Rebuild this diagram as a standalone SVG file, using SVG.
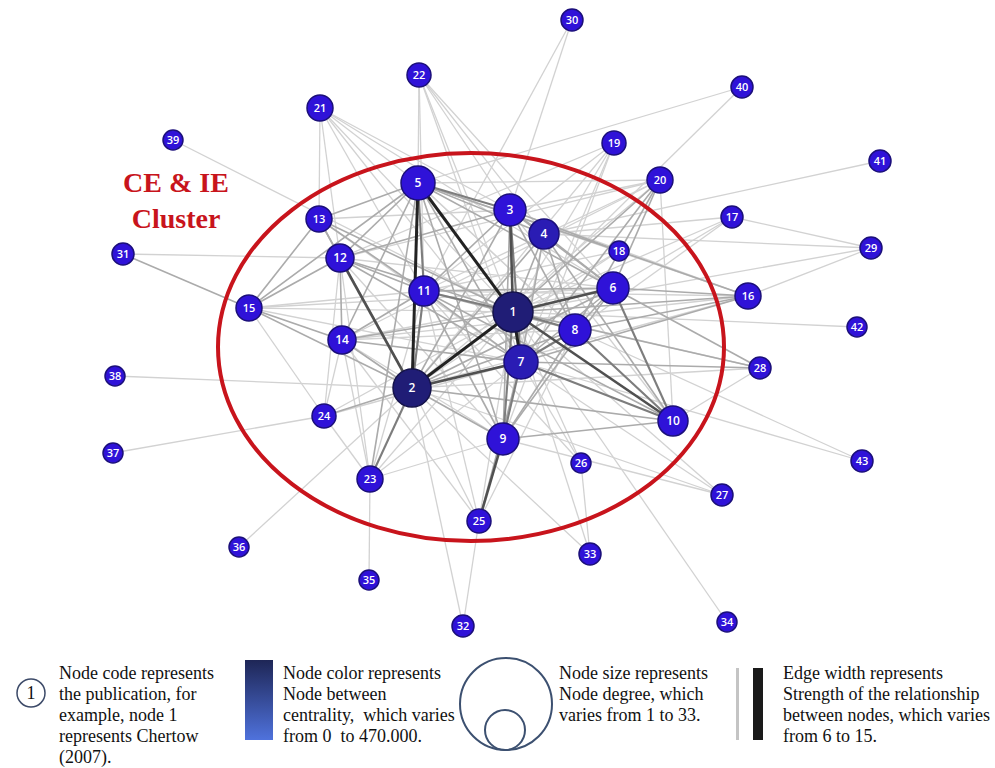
<svg xmlns="http://www.w3.org/2000/svg" width="995" height="768" viewBox="0 0 995 768">
<style>
.e1{stroke:#d2d2d2;stroke-width:1.3}
.e2{stroke:#ababab;stroke-width:1.6}
.e3{stroke:#7d7d7d;stroke-width:2.1}
.e4{stroke:#505050;stroke-width:2.6}
.e5{stroke:#222;stroke-width:3}
.n{fill:#2f12d8;stroke:#1b0f7a;stroke-width:1.5}
.nd{fill:#201d76;stroke:#14124a;stroke-width:1.5}
.nm{fill:#2a1cb4;stroke:#1b0f7a;stroke-width:1.5}
.l{fill:#fff;font-family:"Open Sans","DejaVu Sans",sans-serif;font-weight:600;text-anchor:middle}
.s{font-size:11px}
.b{font-size:12px}
.lg{font-family:"Liberation Serif","Times New Roman",serif;font-size:18px;fill:#111}
.red{font-family:"Liberation Serif","Times New Roman",serif;font-size:28px;font-weight:bold;fill:#c8141c;text-anchor:middle}
</style>
<defs>
<linearGradient id="grad" x1="0" y1="0" x2="0" y2="1">
<stop offset="0" stop-color="#1e2656"/>
<stop offset="1" stop-color="#4f72dc"/>
</linearGradient>
</defs>
<rect width="995" height="768" fill="#fff"/>
<g id="edges">
<line class="e1" x1="572" y1="20" x2="424" y2="291"/>
<line class="e1" x1="572" y1="20" x2="510" y2="210"/>
<line class="e1" x1="742" y1="87" x2="418" y2="183"/>
<line class="e1" x1="742" y1="87" x2="513" y2="312"/>
<line class="e1" x1="880" y1="161" x2="544" y2="234"/>
<line class="e1" x1="173" y1="140" x2="513" y2="312"/>
<line class="e1" x1="123" y1="254" x2="340" y2="258"/>
<line class="e1" x1="115" y1="376" x2="412" y2="388"/>
<line class="e1" x1="113" y1="453" x2="324" y2="416"/>
<line class="e1" x1="239" y1="547" x2="412" y2="388"/>
<line class="e1" x1="369" y1="580" x2="370" y2="479"/>
<line class="e1" x1="463" y1="626" x2="479" y2="521"/>
<line class="e1" x1="463" y1="626" x2="412" y2="388"/>
<line class="e1" x1="590" y1="554" x2="581" y2="463"/>
<line class="e1" x1="590" y1="554" x2="412" y2="388"/>
<line class="e1" x1="590" y1="554" x2="513" y2="312"/>
<line class="e1" x1="727" y1="622" x2="513" y2="312"/>
<line class="e1" x1="857" y1="327" x2="513" y2="312"/>
<line class="e1" x1="862" y1="461" x2="575" y2="330"/>
<line class="e1" x1="862" y1="461" x2="521" y2="362"/>
<line class="e1" x1="871" y1="248" x2="544" y2="234"/>
<line class="e1" x1="871" y1="248" x2="513" y2="312"/>
<line class="e1" x1="871" y1="248" x2="748" y2="296"/>
<line class="e1" x1="871" y1="248" x2="732" y2="217"/>
<line class="e1" x1="732" y1="217" x2="544" y2="234"/>
<line class="e1" x1="732" y1="217" x2="513" y2="312"/>
<line class="e1" x1="732" y1="217" x2="613" y2="288"/>
<line class="e1" x1="732" y1="217" x2="575" y2="330"/>
<line class="e1" x1="722" y1="495" x2="503" y2="439"/>
<line class="e1" x1="722" y1="495" x2="521" y2="362"/>
<line class="e1" x1="722" y1="495" x2="513" y2="312"/>
<line class="e1" x1="722" y1="495" x2="412" y2="388"/>
<line class="e1" x1="581" y1="463" x2="513" y2="312"/>
<line class="e1" x1="581" y1="463" x2="424" y2="291"/>
<line class="e1" x1="581" y1="463" x2="521" y2="362"/>
<line class="e1" x1="419" y1="75" x2="418" y2="183"/>
<line class="e1" x1="419" y1="75" x2="424" y2="291"/>
<line class="e1" x1="419" y1="75" x2="510" y2="210"/>
<line class="e1" x1="419" y1="75" x2="513" y2="312"/>
<line class="e1" x1="419" y1="75" x2="544" y2="234"/>
<line class="e1" x1="419" y1="75" x2="521" y2="362"/>
<line class="e1" x1="419" y1="75" x2="613" y2="288"/>
<line class="e1" x1="320" y1="108" x2="319" y2="219"/>
<line class="e1" x1="320" y1="108" x2="340" y2="258"/>
<line class="e1" x1="320" y1="108" x2="418" y2="183"/>
<line class="e1" x1="320" y1="108" x2="510" y2="210"/>
<line class="e1" x1="320" y1="108" x2="424" y2="291"/>
<line class="e1" x1="320" y1="108" x2="513" y2="312"/>
<line class="e1" x1="320" y1="108" x2="613" y2="288"/>
<line class="e1" x1="320" y1="108" x2="521" y2="362"/>
<line class="e1" x1="614" y1="143" x2="424" y2="291"/>
<line class="e1" x1="614" y1="143" x2="513" y2="312"/>
<line class="e1" x1="614" y1="143" x2="412" y2="388"/>
<line class="e1" x1="614" y1="143" x2="521" y2="362"/>
<line class="e1" x1="614" y1="143" x2="340" y2="258"/>
<line class="e1" x1="614" y1="143" x2="503" y2="439"/>
<line class="e1" x1="660" y1="180" x2="418" y2="183"/>
<line class="e1" x1="660" y1="180" x2="510" y2="210"/>
<line class="e1" x1="660" y1="180" x2="424" y2="291"/>
<line class="e1" x1="660" y1="180" x2="412" y2="388"/>
<line class="e1" x1="660" y1="180" x2="340" y2="258"/>
<line class="e1" x1="660" y1="180" x2="673" y2="421"/>
<line class="e1" x1="660" y1="180" x2="342" y2="340"/>
<line class="e1" x1="619" y1="251" x2="418" y2="183"/>
<line class="e1" x1="619" y1="251" x2="424" y2="291"/>
<line class="e1" x1="619" y1="251" x2="513" y2="312"/>
<line class="e1" x1="619" y1="251" x2="412" y2="388"/>
<line class="e1" x1="748" y1="296" x2="412" y2="388"/>
<line class="e1" x1="748" y1="296" x2="424" y2="291"/>
<line class="e1" x1="748" y1="296" x2="342" y2="340"/>
<line class="e1" x1="748" y1="296" x2="418" y2="183"/>
<line class="e1" x1="748" y1="296" x2="510" y2="210"/>
<line class="e1" x1="760" y1="368" x2="424" y2="291"/>
<line class="e1" x1="760" y1="368" x2="412" y2="388"/>
<line class="e1" x1="760" y1="368" x2="673" y2="421"/>
<line class="e1" x1="324" y1="416" x2="249" y2="308"/>
<line class="e1" x1="324" y1="416" x2="340" y2="258"/>
<line class="e1" x1="324" y1="416" x2="370" y2="479"/>
<line class="e1" x1="324" y1="416" x2="513" y2="312"/>
<line class="e1" x1="324" y1="416" x2="521" y2="362"/>
<line class="e1" x1="324" y1="416" x2="342" y2="340"/>
<line class="e1" x1="370" y1="479" x2="513" y2="312"/>
<line class="e1" x1="370" y1="479" x2="521" y2="362"/>
<line class="e1" x1="370" y1="479" x2="424" y2="291"/>
<line class="e1" x1="370" y1="479" x2="340" y2="258"/>
<line class="e1" x1="370" y1="479" x2="342" y2="340"/>
<line class="e1" x1="370" y1="479" x2="503" y2="439"/>
<line class="e1" x1="479" y1="521" x2="513" y2="312"/>
<line class="e1" x1="479" y1="521" x2="412" y2="388"/>
<line class="e1" x1="479" y1="521" x2="424" y2="291"/>
<line class="e1" x1="479" y1="521" x2="342" y2="340"/>
<line class="e1" x1="479" y1="521" x2="575" y2="330"/>
<line class="e1" x1="249" y1="308" x2="424" y2="291"/>
<line class="e1" x1="249" y1="308" x2="513" y2="312"/>
<line class="e1" x1="249" y1="308" x2="613" y2="288"/>
<line class="e1" x1="249" y1="308" x2="521" y2="362"/>
<line class="e1" x1="319" y1="219" x2="510" y2="210"/>
<line class="e1" x1="319" y1="219" x2="521" y2="362"/>
<line class="e1" x1="340" y1="258" x2="613" y2="288"/>
<line class="e1" x1="340" y1="258" x2="503" y2="439"/>
<line class="e1" x1="342" y1="340" x2="613" y2="288"/>
<line class="e1" x1="342" y1="340" x2="575" y2="330"/>
<line class="e1" x1="342" y1="340" x2="503" y2="439"/>
<line class="e1" x1="510" y1="210" x2="673" y2="421"/>
<line class="e1" x1="544" y1="234" x2="503" y2="439"/>
<line class="e1" x1="418" y1="183" x2="673" y2="421"/>
<line class="e1" x1="418" y1="183" x2="575" y2="330"/>
<line class="e2" x1="123" y1="254" x2="249" y2="308"/>
<line class="e2" x1="249" y1="308" x2="340" y2="258"/>
<line class="e2" x1="249" y1="308" x2="319" y2="219"/>
<line class="e2" x1="249" y1="308" x2="418" y2="183"/>
<line class="e2" x1="249" y1="308" x2="342" y2="340"/>
<line class="e2" x1="249" y1="308" x2="412" y2="388"/>
<line class="e2" x1="319" y1="219" x2="418" y2="183"/>
<line class="e2" x1="319" y1="219" x2="340" y2="258"/>
<line class="e2" x1="319" y1="219" x2="513" y2="312"/>
<line class="e2" x1="319" y1="219" x2="412" y2="388"/>
<line class="e2" x1="319" y1="219" x2="424" y2="291"/>
<line class="e2" x1="340" y1="258" x2="418" y2="183"/>
<line class="e2" x1="340" y1="258" x2="513" y2="312"/>
<line class="e2" x1="340" y1="258" x2="424" y2="291"/>
<line class="e2" x1="340" y1="258" x2="342" y2="340"/>
<line class="e2" x1="340" y1="258" x2="521" y2="362"/>
<line class="e2" x1="340" y1="258" x2="510" y2="210"/>
<line class="e2" x1="342" y1="340" x2="412" y2="388"/>
<line class="e2" x1="342" y1="340" x2="513" y2="312"/>
<line class="e2" x1="342" y1="340" x2="521" y2="362"/>
<line class="e2" x1="342" y1="340" x2="424" y2="291"/>
<line class="e2" x1="342" y1="340" x2="418" y2="183"/>
<line class="e2" x1="424" y1="291" x2="521" y2="362"/>
<line class="e2" x1="424" y1="291" x2="503" y2="439"/>
<line class="e2" x1="424" y1="291" x2="613" y2="288"/>
<line class="e2" x1="424" y1="291" x2="575" y2="330"/>
<line class="e2" x1="424" y1="291" x2="510" y2="210"/>
<line class="e2" x1="424" y1="291" x2="673" y2="421"/>
<line class="e2" x1="418" y1="183" x2="544" y2="234"/>
<line class="e2" x1="418" y1="183" x2="521" y2="362"/>
<line class="e2" x1="418" y1="183" x2="503" y2="439"/>
<line class="e2" x1="418" y1="183" x2="613" y2="288"/>
<line class="e2" x1="418" y1="183" x2="619" y2="251"/>
<line class="e2" x1="510" y1="210" x2="412" y2="388"/>
<line class="e2" x1="510" y1="210" x2="503" y2="439"/>
<line class="e2" x1="510" y1="210" x2="544" y2="234"/>
<line class="e2" x1="510" y1="210" x2="613" y2="288"/>
<line class="e2" x1="510" y1="210" x2="575" y2="330"/>
<line class="e2" x1="544" y1="234" x2="513" y2="312"/>
<line class="e2" x1="544" y1="234" x2="412" y2="388"/>
<line class="e2" x1="544" y1="234" x2="521" y2="362"/>
<line class="e2" x1="544" y1="234" x2="575" y2="330"/>
<line class="e2" x1="544" y1="234" x2="673" y2="421"/>
<line class="e2" x1="544" y1="234" x2="613" y2="288"/>
<line class="e2" x1="613" y1="288" x2="412" y2="388"/>
<line class="e2" x1="613" y1="288" x2="521" y2="362"/>
<line class="e2" x1="613" y1="288" x2="575" y2="330"/>
<line class="e2" x1="613" y1="288" x2="503" y2="439"/>
<line class="e2" x1="575" y1="330" x2="412" y2="388"/>
<line class="e2" x1="575" y1="330" x2="503" y2="439"/>
<line class="e2" x1="748" y1="296" x2="513" y2="312"/>
<line class="e2" x1="748" y1="296" x2="521" y2="362"/>
<line class="e2" x1="748" y1="296" x2="613" y2="288"/>
<line class="e2" x1="748" y1="296" x2="575" y2="330"/>
<line class="e2" x1="748" y1="296" x2="619" y2="251"/>
<line class="e2" x1="760" y1="368" x2="513" y2="312"/>
<line class="e2" x1="760" y1="368" x2="613" y2="288"/>
<line class="e2" x1="760" y1="368" x2="521" y2="362"/>
<line class="e2" x1="660" y1="180" x2="513" y2="312"/>
<line class="e2" x1="660" y1="180" x2="521" y2="362"/>
<line class="e2" x1="660" y1="180" x2="613" y2="288"/>
<line class="e2" x1="660" y1="180" x2="575" y2="330"/>
<line class="e2" x1="619" y1="251" x2="510" y2="210"/>
<line class="e2" x1="673" y1="421" x2="412" y2="388"/>
<line class="e2" x1="673" y1="421" x2="503" y2="439"/>
<line class="e2" x1="370" y1="479" x2="418" y2="183"/>
<line class="e2" x1="324" y1="416" x2="412" y2="388"/>
<line class="e2" x1="479" y1="521" x2="521" y2="362"/>
<line class="e2" x1="412" y1="388" x2="503" y2="439"/>
<line class="e3" x1="510" y1="210" x2="521" y2="362"/>
<line class="e3" x1="424" y1="291" x2="513" y2="312"/>
<line class="e3" x1="424" y1="291" x2="412" y2="388"/>
<line class="e3" x1="513" y1="312" x2="503" y2="439"/>
<line class="e3" x1="521" y1="362" x2="503" y2="439"/>
<line class="e3" x1="575" y1="330" x2="513" y2="312"/>
<line class="e3" x1="575" y1="330" x2="521" y2="362"/>
<line class="e3" x1="370" y1="479" x2="412" y2="388"/>
<line class="e3" x1="673" y1="421" x2="521" y2="362"/>
<line class="e3" x1="613" y1="288" x2="673" y2="421"/>
<line class="e3" x1="575" y1="330" x2="673" y2="421"/>
<line class="e3" x1="418" y1="183" x2="510" y2="210"/>
<line class="e3" x1="418" y1="183" x2="424" y2="291"/>
<line class="e4" x1="513" y1="312" x2="673" y2="421"/>
<line class="e4" x1="510" y1="210" x2="513" y2="312"/>
<line class="e4" x1="412" y1="388" x2="521" y2="362"/>
<line class="e4" x1="613" y1="288" x2="513" y2="312"/>
<line class="e4" x1="503" y1="439" x2="479" y2="521"/>
<line class="e4" x1="340" y1="258" x2="412" y2="388"/>
<line class="e5" x1="418" y1="183" x2="513" y2="312"/>
<line class="e5" x1="418" y1="183" x2="412" y2="388"/>
<line class="e5" x1="513" y1="312" x2="412" y2="388"/>
<line class="e5" x1="513" y1="312" x2="521" y2="362"/>
</g>
<ellipse id="cluster" cx="471" cy="347" rx="253" ry="194" fill="none" stroke="#c8141c" stroke-width="4"/>
<g id="cluster-label">
<text class="red" x="176" y="192">CE &amp; IE</text>
<text class="red" x="176" y="228">Cluster</text>
</g>
<g id="node-1"><circle class="nd" cx="513" cy="312" r="20"/><text class="l b" x="513" y="312" dy="0.36em">1</text></g>
<g id="node-2"><circle class="nd" cx="412" cy="388" r="19"/><text class="l b" x="412" y="388" dy="0.36em">2</text></g>
<g id="node-3"><circle class="n" cx="510" cy="210" r="16"/><text class="l b" x="510" y="210" dy="0.36em">3</text></g>
<g id="node-4"><circle class="nm" cx="544" cy="234" r="15"/><text class="l b" x="544" y="234" dy="0.36em">4</text></g>
<g id="node-5"><circle class="n" cx="418" cy="183" r="17"/><text class="l b" x="418" y="183" dy="0.36em">5</text></g>
<g id="node-6"><circle class="n" cx="613" cy="288" r="16"/><text class="l b" x="613" y="288" dy="0.36em">6</text></g>
<g id="node-7"><circle class="nm" cx="521" cy="362" r="17"/><text class="l b" x="521" y="362" dy="0.36em">7</text></g>
<g id="node-8"><circle class="n" cx="575" cy="330" r="16"/><text class="l b" x="575" y="330" dy="0.36em">8</text></g>
<g id="node-9"><circle class="n" cx="503" cy="439" r="16"/><text class="l b" x="503" y="439" dy="0.36em">9</text></g>
<g id="node-10"><circle class="n" cx="673" cy="421" r="15"/><text class="l b" x="673" y="421" dy="0.36em">10</text></g>
<g id="node-11"><circle class="n" cx="424" cy="291" r="15"/><text class="l b" x="424" y="291" dy="0.36em">11</text></g>
<g id="node-12"><circle class="n" cx="340" cy="258" r="14"/><text class="l b" x="340" y="258" dy="0.36em">12</text></g>
<g id="node-13"><circle class="n" cx="319" cy="219" r="13"/><text class="l s" x="319" y="219" dy="0.36em">13</text></g>
<g id="node-14"><circle class="n" cx="342" cy="340" r="14"/><text class="l b" x="342" y="340" dy="0.36em">14</text></g>
<g id="node-15"><circle class="n" cx="249" cy="308" r="13"/><text class="l s" x="249" y="308" dy="0.36em">15</text></g>
<g id="node-16"><circle class="n" cx="748" cy="296" r="13"/><text class="l s" x="748" y="296" dy="0.36em">16</text></g>
<g id="node-17"><circle class="n" cx="732" cy="217" r="11"/><text class="l s" x="732" y="217" dy="0.36em">17</text></g>
<g id="node-18"><circle class="n" cx="619" cy="251" r="10"/><text class="l s" x="619" y="251" dy="0.36em">18</text></g>
<g id="node-19"><circle class="n" cx="614" cy="143" r="12"/><text class="l s" x="614" y="143" dy="0.36em">19</text></g>
<g id="node-20"><circle class="n" cx="660" cy="180" r="13"/><text class="l s" x="660" y="180" dy="0.36em">20</text></g>
<g id="node-21"><circle class="n" cx="320" cy="108" r="13"/><text class="l s" x="320" y="108" dy="0.36em">21</text></g>
<g id="node-22"><circle class="n" cx="419" cy="75" r="12"/><text class="l s" x="419" y="75" dy="0.36em">22</text></g>
<g id="node-23"><circle class="n" cx="370" cy="479" r="13"/><text class="l s" x="370" y="479" dy="0.36em">23</text></g>
<g id="node-24"><circle class="n" cx="324" cy="416" r="12"/><text class="l s" x="324" y="416" dy="0.36em">24</text></g>
<g id="node-25"><circle class="n" cx="479" cy="521" r="12"/><text class="l s" x="479" y="521" dy="0.36em">25</text></g>
<g id="node-26"><circle class="n" cx="581" cy="463" r="10"/><text class="l s" x="581" y="463" dy="0.36em">26</text></g>
<g id="node-27"><circle class="n" cx="722" cy="495" r="11"/><text class="l s" x="722" y="495" dy="0.36em">27</text></g>
<g id="node-28"><circle class="n" cx="760" cy="368" r="11"/><text class="l s" x="760" y="368" dy="0.36em">28</text></g>
<g id="node-29"><circle class="n" cx="871" cy="248" r="11"/><text class="l s" x="871" y="248" dy="0.36em">29</text></g>
<g id="node-30"><circle class="n" cx="572" cy="20" r="11"/><text class="l s" x="572" y="20" dy="0.36em">30</text></g>
<g id="node-31"><circle class="n" cx="123" cy="254" r="11"/><text class="l s" x="123" y="254" dy="0.36em">31</text></g>
<g id="node-32"><circle class="n" cx="463" cy="626" r="11"/><text class="l s" x="463" y="626" dy="0.36em">32</text></g>
<g id="node-33"><circle class="n" cx="590" cy="554" r="11"/><text class="l s" x="590" y="554" dy="0.36em">33</text></g>
<g id="node-34"><circle class="n" cx="727" cy="622" r="10"/><text class="l s" x="727" y="622" dy="0.36em">34</text></g>
<g id="node-35"><circle class="n" cx="369" cy="580" r="10"/><text class="l s" x="369" y="580" dy="0.36em">35</text></g>
<g id="node-36"><circle class="n" cx="239" cy="547" r="10"/><text class="l s" x="239" y="547" dy="0.36em">36</text></g>
<g id="node-37"><circle class="n" cx="113" cy="453" r="10"/><text class="l s" x="113" y="453" dy="0.36em">37</text></g>
<g id="node-38"><circle class="n" cx="115" cy="376" r="10"/><text class="l s" x="115" y="376" dy="0.36em">38</text></g>
<g id="node-39"><circle class="n" cx="173" cy="140" r="10"/><text class="l s" x="173" y="140" dy="0.36em">39</text></g>
<g id="node-40"><circle class="n" cx="742" cy="87" r="11"/><text class="l s" x="742" y="87" dy="0.36em">40</text></g>
<g id="node-41"><circle class="n" cx="880" cy="161" r="11"/><text class="l s" x="880" y="161" dy="0.36em">41</text></g>
<g id="node-42"><circle class="n" cx="857" cy="327" r="10"/><text class="l s" x="857" y="327" dy="0.36em">42</text></g>
<g id="node-43"><circle class="n" cx="862" cy="461" r="11"/><text class="l s" x="862" y="461" dy="0.36em">43</text></g>
<g id="legend">
<circle cx="31" cy="693" r="14" fill="none" stroke="#3c4a68" stroke-width="1.5"/>
<text class="lg" x="31" y="699" text-anchor="middle">1</text>
<text class="lg" x="59" y="679">Node code represents</text>
<text class="lg" x="59" y="700">the publication, for</text>
<text class="lg" x="59" y="721">example, node 1</text>
<text class="lg" x="59" y="742">represents Chertow</text>
<text class="lg" x="59" y="763">(2007).</text>
<rect x="245" y="660" width="28" height="80" fill="url(#grad)"/>
<text class="lg" x="283" y="679">Node color represents</text>
<text class="lg" x="283" y="700">Node between</text>
<text class="lg" x="283" y="721" xml:space="preserve">centrality,  which varies</text>
<text class="lg" x="283" y="742" xml:space="preserve">from 0  to 470.000.</text>
<circle cx="506" cy="704" r="46" fill="none" stroke="#3c5070" stroke-width="2"/>
<circle cx="505" cy="730" r="20" fill="none" stroke="#3c5070" stroke-width="2"/>
<text class="lg" x="559" y="679">Node size represents</text>
<text class="lg" x="559" y="700">Node degree, which</text>
<text class="lg" x="559" y="721">varies from 1 to 33.</text>
<rect x="736" y="668" width="3" height="72" fill="#c4c4c4"/>
<rect x="753" y="668" width="10" height="72" fill="#1a1a1a"/>
<text class="lg" x="783" y="679">Edge width represents</text>
<text class="lg" x="783" y="700">Strength of the relationship</text>
<text class="lg" x="783" y="721">between nodes, which varies</text>
<text class="lg" x="783" y="742">from 6 to 15.</text>
</g>
</svg>
